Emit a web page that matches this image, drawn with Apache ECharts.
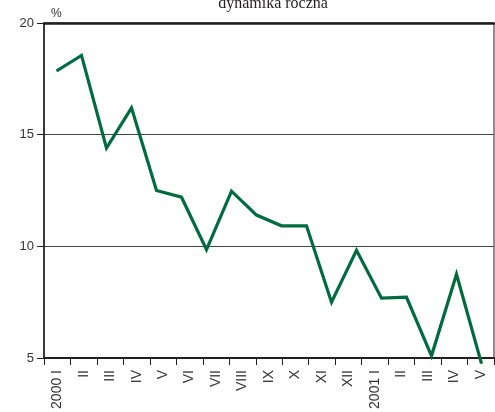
<!DOCTYPE html>
<html>
<head>
<meta charset="utf-8">
<script src="https://cdn.jsdelivr.net/npm/echarts@6/dist/echarts.min.js"></script>
<style>
  html, body { margin: 0; padding: 0; background: #fff; }
  #chart { width: 495px; height: 412px; }
</style>
</head>
<body>
<div id="chart"></div>
<script>
// Month labels on the axis, January 2000 – May 2001
const months = ['2000 I', 'II', 'III', 'IV', 'V', 'VI', 'VII', 'VIII', 'IX', 'X', 'XI', 'XII',
                '2001 I', 'II', 'III', 'IV', 'V'];
// Observation slots of the series (one more than the labelled months)
const periods = ['2000 I', 'II', 'III', 'IV', 'V', 'VI', 'VII', 'VIII', 'IX', 'X', 'XI', 'XII',
                 '2001 I', 'II', 'III', 'IV', 'V', 'VI'];
// Year-on-year dynamics, %
const dynamics = [17.85, 18.55, 14.4, 16.2, 12.5, 12.2, 9.85, 12.47, 11.4, 10.92, 10.92,
                  7.5, 9.82, 7.68, 7.72, 5.1, 8.75, 4.75];
const yTicks = { min: 5, max: 20, step: 5 };
const title = 'dynamika roczna';
const unit = '%';

const chart = echarts.init(document.getElementById('chart'), null, { renderer: 'canvas' });
const axisColor = '#231f20';
const sans = 'Liberation Sans, Arial, sans-serif';

chart.setOption({
  animation: false,
  title: {
    text: title,
    left: 268,
    textAlign: 'center',
    top: -9,
    textStyle: { fontFamily: 'Liberation Serif, Times New Roman, serif', fontWeight: 'normal', fontSize: 16, color: '#231f20' }
  },
  grid: {
    left: 44, right: 1, top: 23, bottom: 54,
    show: true, borderColor: axisColor, borderWidth: 1, backgroundColor: 'transparent'
  },
  xAxis: [{
    type: 'category',
    data: months,
    boundaryGap: true,
    axisLine: { lineStyle: { color: axisColor, width: 2 } },
    axisTick: { show: true, length: 7, lineStyle: { color: axisColor, width: 1 } },
    axisLabel: {
      rotate: 90, interval: 0, margin: 12,
      fontFamily: sans, fontSize: 14, color: '#333'
    },
    splitLine: { show: false }
  }, {
    type: 'category',
    data: periods,
    boundaryGap: true,
    position: 'top',
    axisLine: { lineStyle: { color: axisColor, width: 2.5 } },
    axisTick: { show: false },
    axisLabel: { show: false },
    splitLine: { show: false }
  }],
  yAxis: {
    type: 'value',
    min: yTicks.min, max: yTicks.max, interval: yTicks.step,
    name: unit,
    nameLocation: 'end',
    nameGap: 3,
    nameTextStyle: { fontFamily: sans, fontSize: 12, color: '#333', align: 'left', padding: [0, 0, 0, 7] },
    axisLine: { show: true, lineStyle: { color: axisColor, width: 1.5 } },
    axisTick: { show: true, length: 7, lineStyle: { color: axisColor } },
    axisLabel: { fontFamily: sans, fontSize: 13, color: '#333', margin: 10 },
    splitLine: { show: true, lineStyle: { color: '#444', width: 1 } }
  },
  series: [{
    type: 'line',
    xAxisIndex: 1,
    data: dynamics,
    clip: false,
    symbol: 'none',
    lineStyle: { color: '#006b3f', width: 3.2, join: 'miter' },
    itemStyle: { color: '#006b3f' }
  }]
});
</script>
</body>
</html>
